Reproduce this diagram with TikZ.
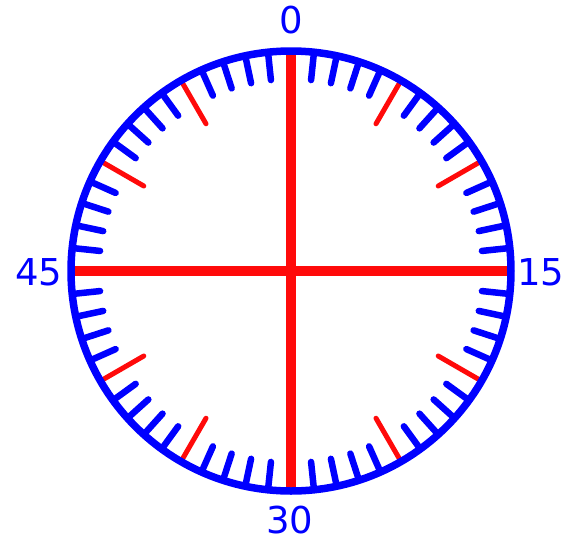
\documentclass[tikz,border=0pt]{standalone}
\usepackage{fontspec}
\setmainfont{DejaVu Sans}
\usetikzlibrary{calc}
\definecolor{dialblue}{RGB}{0,0,255}
\definecolor{dialred}{RGB}{255,10,10}
\tikzset{
  rim/.style={draw=dialblue,line width=7.5pt},
  minortick/.style={draw=dialblue,line width=6.5pt,line cap=round},
  majortick/.style={draw=dialred,line width=5pt,line cap=round},
  crossline/.style={draw=dialred,line width=10pt},
  numlabel/.style={text=dialblue,font=\fontsize{37}{37}\selectfont,inner sep=0pt}
}
\begin{document}
\begin{tikzpicture}[x=1pt,y=-1pt]
\useasboundingbox (0,0) rectangle (566,542);
\coordinate (c) at (291,271);
% minute ticks
\foreach \m in {1,...,59}{
  \pgfmathtruncatemacro{\r}{mod(\m,5)}
  \ifnum\r=0\relax\else
    \draw[minortick] ($(c)+({220*sin(6*\m)},{-220*cos(6*\m)})$) -- ($(c)+({192*sin(6*\m)},{-192*cos(6*\m)})$);
  \fi
}
% five-minute ticks
\foreach \m in {5,10,20,25,35,40,50,55}{
  \draw[majortick] ($(c)+({219*sin(6*\m)},{-219*cos(6*\m)})$) -- ($(c)+({170*sin(6*\m)},{-170*cos(6*\m)})$);
}
\coordinate (t) at (291,53);
\coordinate (b) at (291,489);
\coordinate (l) at (75,271);
\coordinate (r) at (512,271);
\draw[crossline] (t) -- (b);
\draw[crossline] (l) -- (r);
\draw[rim] (c) circle (220);
\node[numlabel] (n0) at (291,20) {0};
\node[numlabel] (n15) at (541,272) {15};
\node[numlabel] (n30) at (290,520) {30};
\node[numlabel] (n45) at (39,272) {45};
\end{tikzpicture}
\end{document}
